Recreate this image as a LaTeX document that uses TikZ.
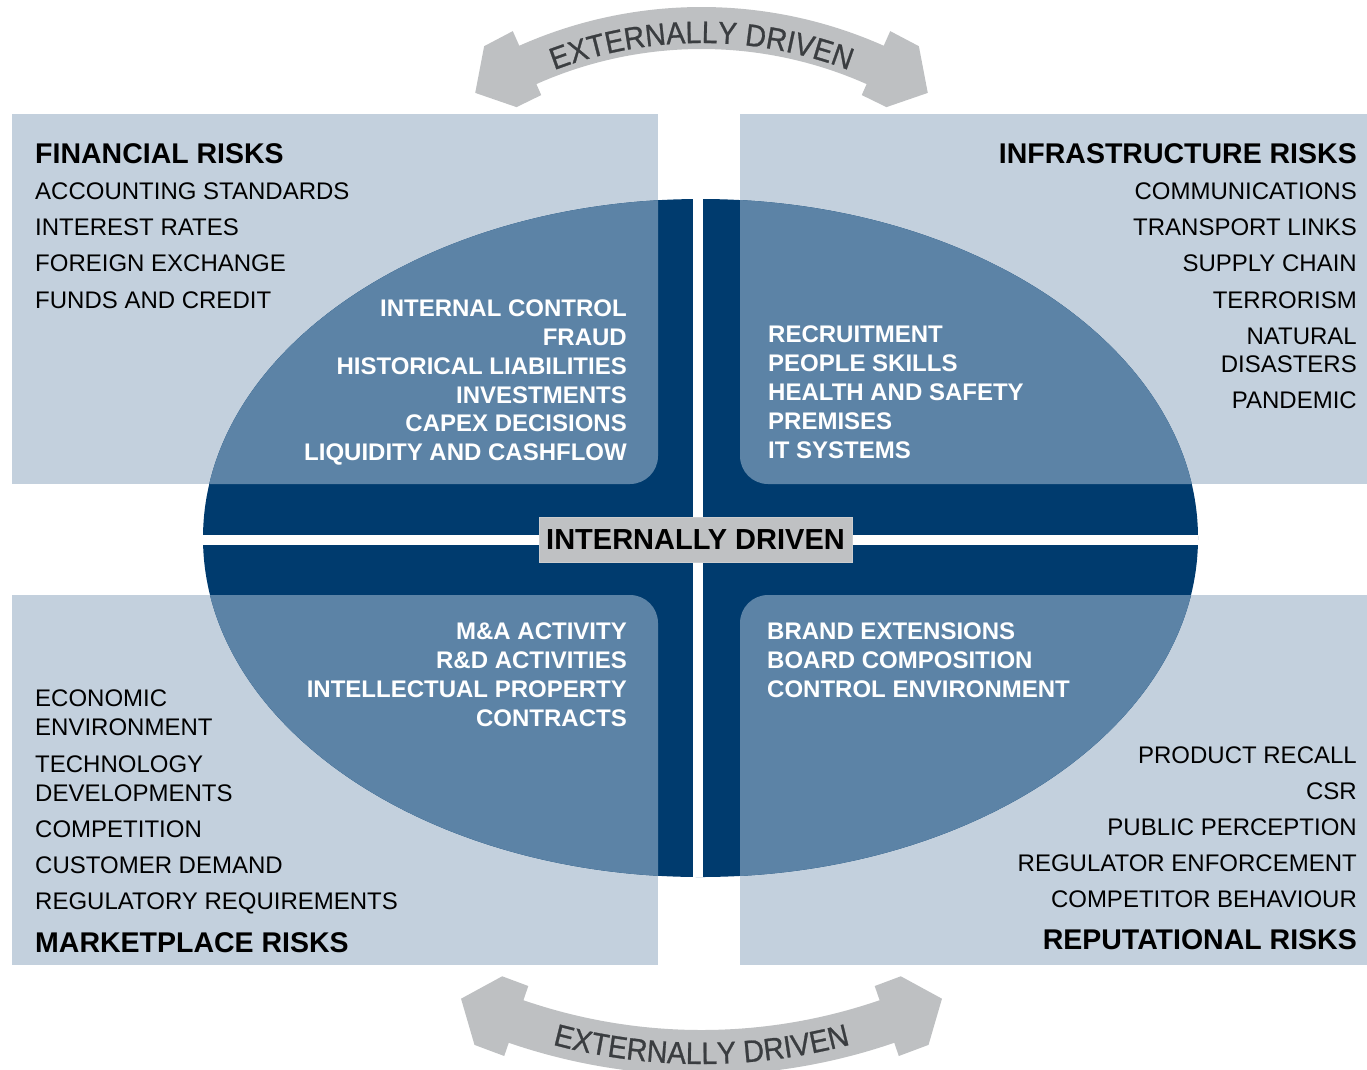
\documentclass[tikz,border=0pt]{standalone}
\usepackage{fontspec}
\setmainfont{Liberation Sans}
\newfontfamily\arcfamily[FakeBold=0.8, FakeStretch=0.92]{Liberation Sans}
\usetikzlibrary{decorations.text}

\definecolor{riskBox}{HTML}{C3D0DD}
\definecolor{riskMid}{HTML}{5C83A6}
\definecolor{riskNavy}{HTML}{003B6E}
\definecolor{riskArrow}{HTML}{BEC0C2}
\definecolor{riskInk}{HTML}{3A3D40}
\definecolor{riskLabel}{HTML}{BFC1C3}

\newcommand\arcfont{\arcfamily\fontsize{31}{31}\selectfont\color{riskInk}}

\tikzset{
  titletext/.style={font=\fontsize{28.5}{30}\selectfont\bfseries, inner sep=0pt},
  listtext/.style={font=\fontsize{24}{26}\selectfont, inner sep=0pt},
  coretext/.style={font=\fontsize{24}{26}\selectfont\bfseries, text=white, inner sep=0pt},
  labelbox/.style={fill=riskLabel, draw=riskLabel!80!white, line width=1pt,
    minimum width=313pt, minimum height=45pt, inner sep=0pt,
    font=\fontsize{29}{30}\selectfont\bfseries},
  arcband/.style={fill=riskArrow},
}

\begin{document}
\begin{tikzpicture}[x=1pt,y=-1pt]
\useasboundingbox (0,0) rectangle (1367,1069);

% quadrant boxes
\fill[riskBox] (12,114) rectangle (658,484);
\fill[riskBox] (740,114) rectangle (1367,484);
\fill[riskBox] (12,595) rectangle (658,965);
\fill[riskBox] (740,595) rectangle (1367,965);

% central ellipse
\fill[riskNavy] (700.5,538) ellipse [x radius=497.5, y radius=339];
\begin{scope}
  \clip (700.5,538) ellipse [x radius=497.5, y radius=339];
  \fill[riskMid, rounded corners=28pt] (12,114) rectangle (658,484);
  \fill[riskMid, rounded corners=28pt] (740,114) rectangle (1367,484);
  \fill[riskMid, rounded corners=28pt] (12,595) rectangle (658,965);
  \fill[riskMid, rounded corners=28pt] (740,595) rectangle (1367,965);
  \fill[white] (693,150) rectangle (703,930);
  \fill[white] (150,535) rectangle (1250,545);
\end{scope}

\node[labelbox] (core) at (695.5,539.5) {INTERNALLY DRIVEN};

% top curved arrow
\begin{scope}[shift={(701.5,455)}]
  \fill[arcband] (246:448) arc[start angle=246, end angle=294, radius=448]
    -- (294:464) -- (298:463) -- (302:427) -- (298:394) -- (294:394) -- (294:406)
    arc[start angle=294, end angle=246, radius=406]
    -- (246:394) -- (242:394) -- (238:427) -- (242:463) -- (246:464) -- cycle;
  \path[decorate, decoration={text along path, text align=center,
      text={|\arcfont|EXTERNALLY DRIVEN}}]
    (244:412) arc[start angle=244, end angle=296, radius=412];
\end{scope}

% bottom curved arrow
\begin{scope}[shift={(701.5,483)}]
  \fill[arcband] (109:547) arc[start angle=109, end angle=71, radius=547]
    -- (71:532) -- (68:532) -- (65:569) -- (68:606) -- (71:606) -- (71:592)
    arc[start angle=71, end angle=109, radius=592]
    -- (109:606) -- (112:606) -- (115:569) -- (112:532) -- (109:532) -- cycle;
  \path[decorate, decoration={text along path, text align=center,
      text={|\arcfont|EXTERNALLY DRIVEN}}]
    (110:581) arc[start angle=110, end angle=70, radius=581];
\end{scope}

% financial risks
\node[titletext, anchor=base west] (finT) at (35,163.5) {FINANCIAL RISKS};
\foreach \txt/\yy [count=\i] in {ACCOUNTING STANDARDS/199, INTEREST RATES/235.3,
    FOREIGN EXCHANGE/271.6, FUNDS AND CREDIT/308}
  \node[listtext, anchor=base west] (fin\i) at (35,\yy) {\txt};
\foreach \txt/\yy [count=\i] in {INTERNAL CONTROL/316.5, FRAUD/345.3,
    HISTORICAL LIABILITIES/374.2, INVESTMENTS/403, CAPEX DECISIONS/431.9,
    LIQUIDITY AND CASHFLOW/460.7}
  \node[coretext, anchor=base east] (finC\i) at (627,\yy) {\txt};

% infrastructure risks
\node[titletext, anchor=base east] (infT) at (1357,163.5) {INFRASTRUCTURE RISKS};
\foreach \txt/\yy [count=\i] in {COMMUNICATIONS/199, TRANSPORT LINKS/235.3,
    SUPPLY CHAIN/271.6, TERRORISM/308, NATURAL/344, DISASTERS/372.8, PANDEMIC/408.5}
  \node[listtext, anchor=base east] (inf\i) at (1357,\yy) {\txt};
\foreach \txt/\yy [count=\i] in {RECRUITMENT/342.8, PEOPLE SKILLS/371.7,
    HEALTH AND SAFETY/400.6, PREMISES/429.5, IT SYSTEMS/458.4}
  \node[coretext, anchor=base west] (infC\i) at (768,\yy) {\txt};

% marketplace risks
\foreach \txt/\yy [count=\i] in {M\&A ACTIVITY/639.8, R\&D ACTIVITIES/668.7,
    INTELLECTUAL PROPERTY/697.6, CONTRACTS/726.5}
  \node[coretext, anchor=base east] (mktC\i) at (627,\yy) {\txt};
\foreach \txt/\yy [count=\i] in {ECONOMIC/706.6, ENVIRONMENT/735.6,
    TECHNOLOGY/772.6, DEVELOPMENTS/801.6, COMPETITION/837.6,
    CUSTOMER DEMAND/873.6, REGULATORY REQUIREMENTS/909.6}
  \node[listtext, anchor=base west] (mkt\i) at (35,\yy) {\txt};
\node[titletext, anchor=base west] (mktT) at (35,952) {MARKETPLACE RISKS};

% reputational risks
\foreach \txt/\yy [count=\i] in {BRAND EXTENSIONS/639.8, BOARD COMPOSITION/668.7,
    CONTROL ENVIRONMENT/697.6}
  \node[coretext, anchor=base west] (repC\i) at (767,\yy) {\txt};
\foreach \txt/\yy [count=\i] in {PRODUCT RECALL/763.6, CSR/799.6,
    PUBLIC PERCEPTION/835.6, REGULATOR ENFORCEMENT/871.6,
    COMPETITOR BEHAVIOUR/907.6}
  \node[listtext, anchor=base east] (rep\i) at (1357,\yy) {\txt};
\node[titletext, anchor=base east] (repT) at (1357,949) {REPUTATIONAL RISKS};
\end{tikzpicture}
\end{document}
